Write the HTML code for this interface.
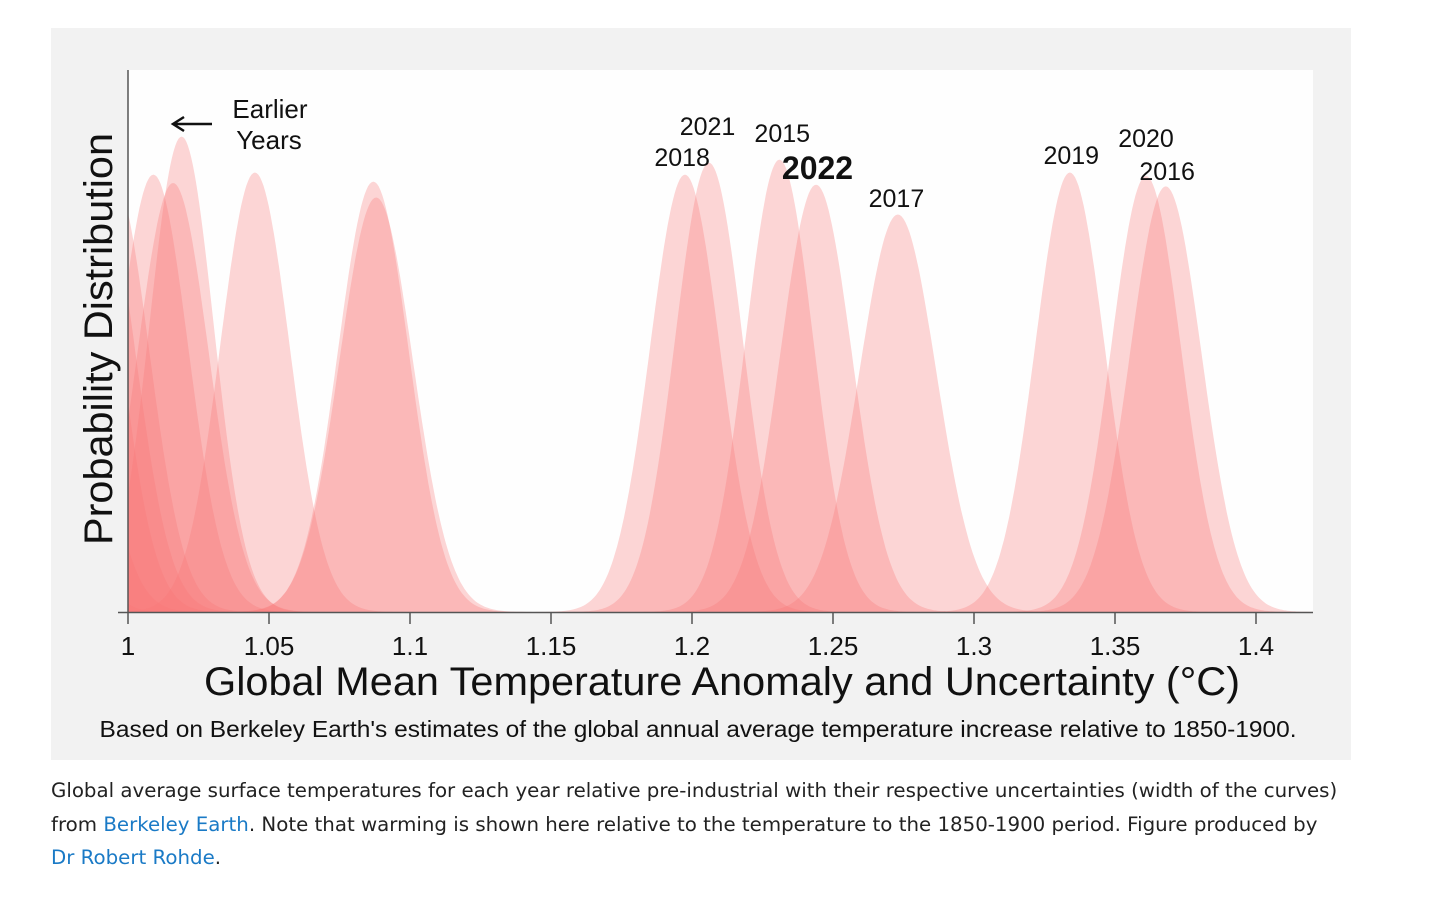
<!DOCTYPE html>
<html><head><meta charset="utf-8"><style>
body{margin:0;width:1456px;height:899px;background:#fff;font-family:"Liberation Sans",sans-serif;overflow:hidden;position:relative}
.cap{position:absolute;left:51px;font-family:"DejaVu Sans","Liberation Sans",sans-serif;font-size:19.8px;color:#222;line-height:33.5px;top:774px;width:1400px;white-space:nowrap}
.cap a{color:#1a7ac6;text-decoration:none}
</style></head><body>
<svg width="1456" height="770" style="position:absolute;left:0;top:0" font-family="Liberation Sans, sans-serif">
<rect x="51" y="28" width="1300" height="732" fill="#f2f2f2"/>
<rect x="128" y="70" width="1185" height="542" fill="#fefefe"/>
<defs><clipPath id="pc"><rect x="128" y="60" width="1185" height="552"/></clipPath></defs>
<g id="curves" clip-path="url(#pc)"></g>
<line x1="128" y1="70" x2="128" y2="613" stroke="#555" stroke-width="1.5"/>
<line x1="118" y1="612.5" x2="1313" y2="612.5" stroke="#555" stroke-width="1.5"/>
<g id="ticks"></g>
<text transform="translate(112,339) rotate(-90)" text-anchor="middle" font-size="40" textLength="412" lengthAdjust="spacingAndGlyphs" fill="#111">Probability Distribution</text>
<text x="722" y="695" text-anchor="middle" font-size="40" textLength="1036" lengthAdjust="spacingAndGlyphs" fill="#111">Global Mean Temperature Anomaly and Uncertainty (°C)</text>
<text x="698" y="737" text-anchor="middle" font-size="23" textLength="1197" lengthAdjust="spacingAndGlyphs" fill="#111">Based on Berkeley Earth's estimates of the global annual average temperature increase relative to 1850-1900.</text>
<g>
<text x="270" y="118" text-anchor="middle" font-size="26" fill="#111">Earlier</text>
<text x="269" y="149" text-anchor="middle" font-size="26" fill="#111">Years</text>
<path d="M212 124 H173 M184 117 L173 124 L184 131" stroke="#111" stroke-width="2.5" fill="none"/>
</g>
<g id="labels"></g>
</svg>
<div class="cap">Global average surface temperatures for each year relative pre-industrial with their respective uncertainties (width of the curves)<br>from <a>Berkeley Earth</a>. Note that warming is shown here relative to the temperature to the 1850-1900 period. Figure produced by<br><a>Dr Robert Rohde</a>.</div>
<script>
const years = ["e1","e2","e3","e4","e5","e6","e7","e8","e9","e10","e11","2018","2021","2015","2022","2017","2019","2020","2016"];
const means = [0.965,0.975,0.985,0.99,0.995,1.009,1.016,1.019,1.045,1.087,1.088,1.1975,1.206,1.231,1.244,1.273,1.334,1.361,1.368];
const sigmas = [0.0125,0.013,0.0124,0.0126,0.0125,0.01236,0.0126,0.01137,0.0123,0.01256,0.01304,0.01236,0.01203,0.01195,0.01265,0.0136,0.0123,0.0124,0.0127];
const tickVals = [1,1.05,1.1,1.15,1.2,1.25,1.3,1.35,1.4];
const tickLabels = ["1","1.05","1.1","1.15","1.2","1.25","1.3","1.35","1.4"];
const labelYears = ["2021","2015","2018","2022","2017","2019","2020","2016"];
const labelX = [1.2055,1.232,1.1965,1.2445,1.2725,1.3345,1.361,1.3685];
const labelY = [126,133,157,168,198,155,138,171];
const NS="http://www.w3.org/2000/svg";
const X0=128, PX=2820, Y0=612, K=13.55;
const xs=v=>X0+(v-1)*PX;
const ys=d=>Y0-d*K;
const cg=document.getElementById('curves');
for(let i=0;i<means.length;i++){
  const m=means[i],s=sigmas[i];let d="";
  for(let t=-4.5;t<=4.5;t+=0.05){const v=m+t*s;const den=Math.exp(-t*t/2)/(s*Math.sqrt(2*Math.PI));d+=(d?"L":"M")+xs(v).toFixed(1)+" "+ys(den).toFixed(1);}
  d+="Z";
  const p=document.createElementNS(NS,'path');
  p.setAttribute('d',d);p.setAttribute('fill','rgba(250,120,120,0.3)');
  
  
  cg.appendChild(p);
}
const tg=document.getElementById('ticks');
tickVals.forEach((v,i)=>{
  const l=document.createElementNS(NS,'line');
  l.setAttribute('x1',xs(v));l.setAttribute('x2',xs(v));l.setAttribute('y1',612);l.setAttribute('y2',624);l.setAttribute('stroke','#555');l.setAttribute('stroke-width','1.5');
  
  
  tg.appendChild(l);
  const t=document.createElementNS(NS,'text');
  t.setAttribute('x',xs(v));t.setAttribute('y',655);t.setAttribute('text-anchor','middle');t.setAttribute('font-size','26');t.setAttribute('fill','#111');
  t.textContent=tickLabels[i];
  
  
  tg.appendChild(t);
});
const lg=document.getElementById('labels');
labelYears.forEach((y,i)=>{
  const t=document.createElementNS(NS,'text');
  const b=y==="2022";
  t.setAttribute('x',xs(labelX[i]));t.setAttribute('y',labelY[i]+(b?11:9));t.setAttribute('text-anchor','middle');
  t.setAttribute('font-size',b?'32':'25');if(b)t.setAttribute('font-weight','bold');t.setAttribute('fill','#111');
  t.textContent=y;
  
  
  lg.appendChild(t);
});
</script>
</body></html>
